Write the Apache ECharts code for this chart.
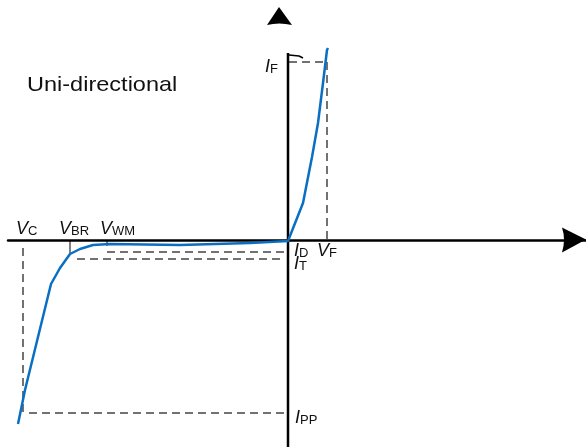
<!DOCTYPE html>
<html>
<head>
<meta charset="utf-8">
<script src="https://cdn.jsdelivr.net/npm/echarts@6/dist/echarts.min.js"></script>
<style>
  html, body { margin: 0; padding: 0; background: #fff; }
  #main { width: 586px; height: 447px; }
</style>
</head>
<body>
<div id="main"></div>
<script>
// I-V curve of a uni-directional TVS diode (arbitrary units)
var curveV = [-27.0, -26.3, -23.7, -22.8, -21.8, -20.8, -19.5, -17.8, -10.8, -3.8, 0, 0.2, 1.5, 2.4, 3.0, 3.5, 3.9, 4.0];
var curveI = [-18.4, -15.0, -4.4, -2.8, -1.4, -0.9, -0.5, -0.4, -0.5, -0.3, -0.1, 0.1, 3.7, 8.3, 11.7, 15.7, 19.0, 19.2];

// characteristic points
var vC = -26.5, vBR = -21.8, vWM = -18.1, vF = 3.9;
var iF = 17.8, iD = -1.2, iT = -1.9, iPP = -17.3;

// axis ranges
var xMin = -28, xMax = 29.8, yMin = -20.7, yMax = 24.0;

// arrow head, pointing up, slightly hollow base
var arrowPath = 'path://M12,0 L25,24 Q12,20 0,24 Z';

function pairs(xs, ys) {
  return xs.map(function (x, k) { return [x, ys[k]]; });
}

function seg(data, color, width, type, z) {
  return {
    type: 'line', data: data, showSymbol: false, silent: true, animation: false,
    lineStyle: { color: color, width: width, type: type }, z: z || 2
  };
}

var dash = [8, 5];
var chart = echarts.init(document.getElementById('main'));

var series = [
  // vertical (current) axis
  seg([[0, yMin], [0, 18.7]], '#000', 2.5, 'solid', 3),
  seg([[0.1, 18.5], [1.1, 18.4], [1.5, 18.2]], '#000', 1.5, 'solid', 3),
  // dashed guides
  seg([[0.1, iF], [vF, iF]], '#444', 1.5, dash),
  seg([[vF, iF], [vF, 0]], '#444', 1.5, dash),
  seg([[vWM, iD], [-0.3, iD]], '#444', 1.5, dash),
  seg([[-21.1, iT], [-0.3, iT]], '#444', 1.5, dash),
  seg([[vC, -0.8], [vC, iPP]], '#444', 1.5, dash),
  seg([[-25.9, iPP], [-0.3, iPP]], '#444', 1.5, dash),
  // ticks
  seg([[vBR, -0.1], [vBR, -1.3]], '#000', 1, 'solid'),
  seg([[vWM, -0.1], [vWM, -0.6]], '#000', 1, 'solid'),
  // the curve
  seg(pairs(curveV, curveI), '#0a6fc2', 2.5, 'solid', 4),
  // detached arrow of the current axis
  {
    type: 'scatter', data: [[-0.85, 22.4]], symbol: arrowPath, symbolSize: [25, 18],
    itemStyle: { color: '#000', opacity: 1 }, silent: true, animation: false
  }
];

function lbl(x, y, main, sub, opt) {
  opt = opt || {};
  return {
    type: 'text', x: x, y: y, silent: true,
    style: {
      text: '{m|' + main + '}{s|' + sub + '}',
      rich: {
        m: { fontFamily: 'Liberation Sans', fontStyle: 'italic', fontSize: opt.m || 18, fill: '#111', verticalAlign: 'bottom' },
        s: { fontFamily: 'Liberation Sans', fontSize: opt.s || 13, fill: '#111', verticalAlign: 'bottom' }
      },
      verticalAlign: 'bottom'
    }
  };
}

chart.setOption({
  animation: false,
  grid: { left: 8, right: 0, top: 0, bottom: 0 },
  xAxis: {
    type: 'value', min: xMin, max: xMax,
    axisLine: {
      show: true, onZero: true, symbol: ['none', arrowPath], symbolSize: [25, 24],
      symbolOffset: [0, -12], lineStyle: { color: '#000', width: 2.5 }
    },
    axisTick: { show: false }, axisLabel: { show: false }, splitLine: { show: false }
  },
  yAxis: {
    type: 'value', min: yMin, max: yMax,
    axisLine: { show: false }, axisTick: { show: false },
    axisLabel: { show: false }, splitLine: { show: false }
  },
  series: series,
  graphic: [
    {
      type: 'text', x: 27, y: 96, scaleX: 1.12, silent: true,
      style: { text: 'Uni-directional', fontFamily: 'Liberation Sans', fontSize: 21, fill: '#111', verticalAlign: 'bottom' }
    },
    lbl(16, 238, 'V', 'C'),
    lbl(59, 238, 'V', 'BR'),
    lbl(100, 238, 'V', 'WM'),
    lbl(265, 76, 'I', 'F'),
    lbl(294, 260, 'I', 'D'),
    lbl(294, 273, 'I', 'T'),
    lbl(317, 260, 'V', 'F'),
    lbl(295, 427, 'I', 'PP')
  ]
});
</script>
</body>
</html>
